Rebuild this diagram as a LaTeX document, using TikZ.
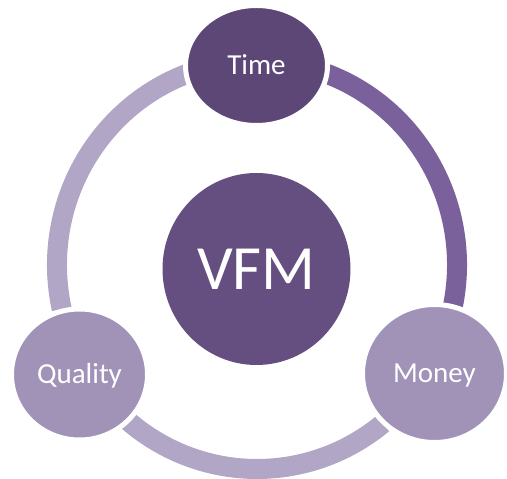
\documentclass[tikz,border=0pt]{standalone}
\usepackage{fontspec}
\setmainfont{Carlito}
\usepackage{tikz}
\usetikzlibrary{shapes.geometric}

\definecolor{timefill}{HTML}{5C4776}
\definecolor{vfmfill}{HTML}{654F80}
\definecolor{cornerfill}{HTML}{A193B8}
\definecolor{ringlight}{HTML}{B1A6C6}
\definecolor{ringdark}{HTML}{7B619B}

\begin{document}
\begin{tikzpicture}[x=1pt, y=1pt, line cap=butt]
  \tikzset{every node/.style={ellipse, inner sep=0pt, text=white},
    corner/.style={draw=white, line width=5pt, text height=18.7pt, text depth=0pt,
      font=\fontsize{29}{35}\selectfont},
    ringpart/.style={line width=20pt}}
  \useasboundingbox (0,0) rectangle (507,479);

  \coordinate (ctr) at (257,214);
  % the ring, in three pieces
  \draw[ringpart, draw=ringlight] (ctr) ++(104:200 and 204) arc[start angle=104, end angle=192.5, x radius=200, y radius=204];
  \draw[ringpart, draw=ringdark]  (ctr) ++(76:200 and 204)  arc[start angle=76, end angle=-12, x radius=200, y radius=204];
  \draw[ringpart, draw=ringlight] (ctr) ++(230:200 and 204) arc[start angle=230, end angle=309, x radius=200, y radius=204];

  \node[fill=vfmfill, minimum width=188pt, minimum height=192pt, text height=40.6pt, text depth=0pt,
    font=\fontsize{63}{75}\selectfont] (vfm) at (256.5,210) {VFM};

  \node[corner, fill=timefill, minimum width=142pt, minimum height=120pt] (time) at (256.5,413.5) {Time};
  \node[corner, fill=cornerfill, minimum width=136pt, minimum height=131pt] (quality) at (79.5,104.5) {Quality};
  \node[corner, fill=cornerfill, minimum width=144pt, minimum height=138pt] (money) at (434.5,105.5) {Money};
\end{tikzpicture}
\end{document}
